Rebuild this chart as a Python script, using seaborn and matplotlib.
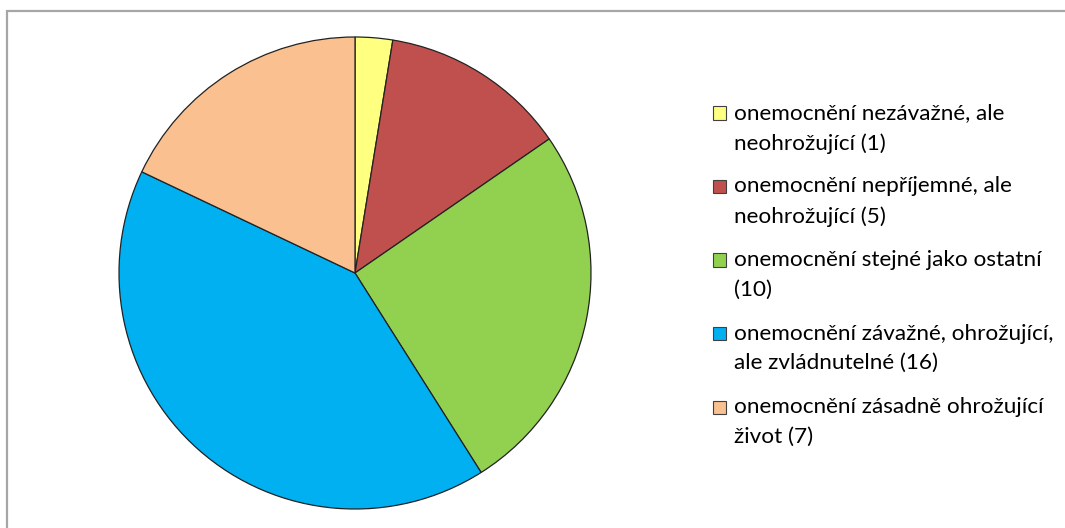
import matplotlib
matplotlib.use("Agg")
import matplotlib.pyplot as plt
from matplotlib.patches import Rectangle
import seaborn as sns

# Responses per category
labels = [
    "onemocnění nezávažné, ale\nneohrožující (1)",
    "onemocnění nepříjemné, ale\nneohrožující (5)",
    "onemocnění stejné jako ostatní\n(10)",
    "onemocnění závažné, ohrožující,\nale zvládnutelné (16)",
    "onemocnění zásadně ohrožující\nživot (7)",
]
counts = [1, 5, 10, 16, 7]
colors = ["#FFFF80", "#C0504D", "#92D050", "#00B0F0", "#FAC090"]

sns.set_theme(style="white")
plt.rcParams["font.family"] = ["Lato", "DejaVu Sans"]

W, H = 1065, 528
fig = plt.figure(figsize=(W / 100, H / 100), dpi=100)
fig.patch.set_facecolor("white")

# Outer frame of the chart area
fig.patches.append(Rectangle((7 / W, -0.05), 1.1, (H - 11) / H + 0.05,
                             transform=fig.transFigure, fill=False,
                             edgecolor="#A6A6A6", linewidth=1.6))

# Pie area: centre (355, 273), radius ~236 px
cx, cy, r = 355, 273, 236
ax = fig.add_axes([(cx - r) / W, (H - cy - r) / H, 2 * r / W, 2 * r / H])
wedges, _ = ax.pie(counts, colors=colors, startangle=90, counterclock=False,
                   wedgeprops=dict(edgecolor="#222222", linewidth=0.9),
                   radius=1.0)
ax.set_xlim(-1.0, 1.0)
ax.set_ylim(-1.0, 1.0)
ax.set_aspect("equal")
ax.axis("off")

# Legend: square key aligned with the first line of each label
y0, step = 113, 73.5
for i, (lab, col) in enumerate(zip(labels, colors)):
    yc = y0 + step * i
    fig.patches.append(Rectangle((713 / W, (H - yc - 6.5) / H), 13 / W, 13 / H,
                                 transform=fig.transFigure, facecolor=col,
                                 edgecolor="#404040", linewidth=0.8))
    fig.text(734 / W, (H - yc + 10) / H, lab, ha="left", va="top",
             fontsize=16.2, color="#000000", linespacing=1.6)

fig.savefig("out.png", dpi=100, facecolor="white")
